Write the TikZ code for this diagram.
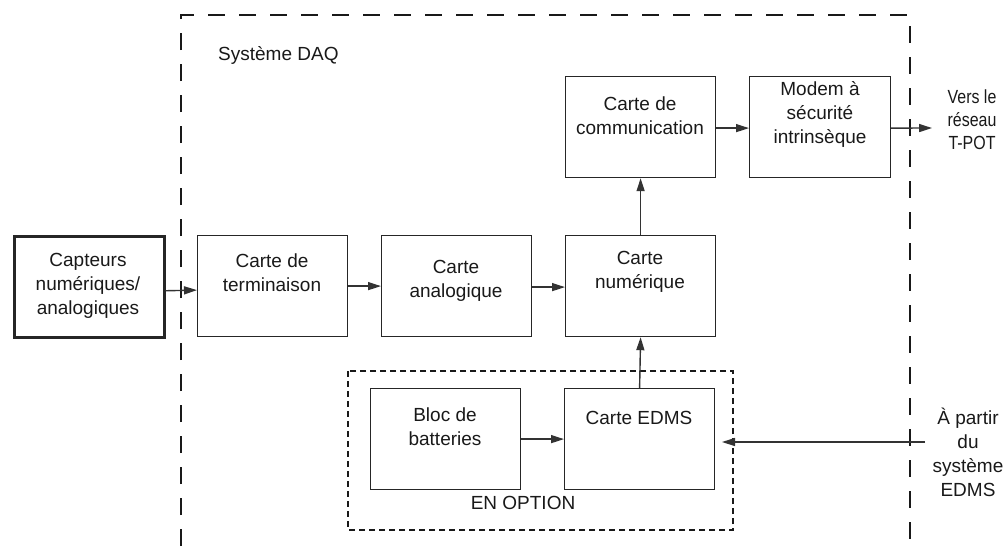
\documentclass[tikz,border=0pt]{standalone}
\usepackage{fontspec}
\setmainfont{Liberation Sans}
\newfontfamily\narrowfont[FakeStretch=0.84]{Liberation Sans}
\usetikzlibrary{arrows.meta}

\tikzset{
  block/.style={draw=black!85, line width=1.2pt, minimum width=150pt, minimum height=101pt, inner sep=0pt, anchor=north west},
  txt/.style={align=center, font=\fontsize{19}{24}\selectfont, text=black!90, inner sep=0pt},
  conn/.style={draw=black!80, line width=1.4pt, -{Triangle[length=13pt,width=8pt]}},
  sysframe/.style={draw=black!90, line width=2.6pt, dash pattern=on 17pt off 14pt},
  optframe/.style={draw=black!90, line width=2pt, dash pattern=on 6pt off 4pt}
}

\begin{document}
\begin{tikzpicture}[x=1pt, y=-1pt]
\useasboundingbox (0,0) rectangle (1006,546);

% system frame and optional sub-assembly frame
\draw[sysframe] (181,546) -- (181,15) -- (910,15) -- (910,546);
\draw[optframe] (348,371) rectangle (733,530);
\node[txt, anchor=west] (daq) at (218,55) {Système DAQ};
\node[txt] (opt) at (523,503) {EN OPTION};

% blocks
\node[block, line width=2.5pt] (cap) at (13,235) {};
\node[block] (term) at (197,235) {};
\node[block] (ana) at (381,235) {};
\node[block] (num) at (565,235) {};
\node[block] (comm) at (565,76) {};
\node[block, minimum width=141pt] (modem) at (749,76) {};
\node[block] (bloc) at (370,388) {};
\node[block] (edms) at (564,388) {};

% block texts
\node[txt] (cap-t) at (88,286) {Capteurs\\numériques/\\analogiques};
\node[txt] (term-t) at (272,273) {Carte de\\terminaison};
\node[txt] (ana-t) at (456,281) {Carte\\analogique};
\node[txt] (num-t) at (640,272) {Carte\\numérique};
\node[txt] (comm-t) at (640,116) {Carte de\\communication};
\node[txt] (modem-t) at (820,114) {Modem à\\sécurité\\intrinsèque};
\node[txt] (bloc-t) at (445,427) {Bloc de\\batteries};
\node[txt] (edms-t) at (639,418) {Carte EDMS};

% outside labels
\node[txt, font=\narrowfont\fontsize{19}{23}\selectfont] (tpot) at (972,120) {Vers le\\réseau\\T-POT};
\node[txt] (src) at (968,452) {À partir\\du\\système\\EDMS};

% connectors
\coordinate (out) at (932,128);
\coordinate (in) at (925,442);
\draw[conn] ([yshift=-4pt]cap.east) -- ([yshift=-4pt]term.west);
\draw[conn] (term.east) -- (ana.west);
\draw[conn] ([yshift=-1pt]ana.east) -- ([yshift=-1pt]num.west);
\draw[conn] (num.north) -- (comm.south);
\draw[conn] ([yshift=-1pt]comm.east) -- ([yshift=-1pt]modem.west);
\draw[conn] ([yshift=-1pt]modem.east) -- (out);
\draw[conn] (bloc.east) -- (edms.west);
\draw[conn] (edms.north) -- (num.south);
\draw[conn] (in) -- (722,442);
\end{tikzpicture}
\end{document}
